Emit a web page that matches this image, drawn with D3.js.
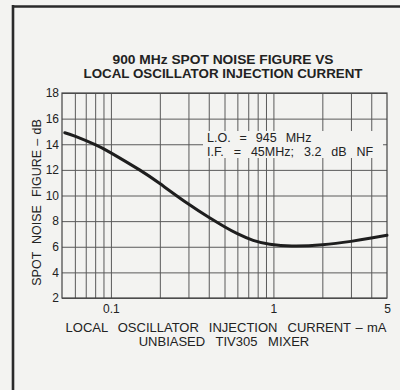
<!DOCTYPE html>
<html>
<head>
<meta charset="utf-8">
<script src="https://cdn.jsdelivr.net/npm/d3@7"></script>
<style>
  html, body { margin: 0; padding: 0; background: #f3f3f1; }
  svg { display: block; }
  text { font-family: "Liberation Sans", Arial, Helvetica, sans-serif; fill: #222; }
</style>
</head>
<body>
<svg id="chart" width="400" height="390"></svg>
<script>
// Spot noise figure vs LO injection current (unbiased TIV305 mixer)
const currentMA = [0.052, 0.06, 0.08, 0.1, 0.15, 0.2, 0.3, 0.4, 0.5, 0.6, 0.75, 0.95, 1.3, 2, 3, 4, 5];
const noiseFigureDB = [14.9, 14.63, 13.97, 13.33, 12.0, 10.93, 9.33, 8.3, 7.56, 7.02, 6.5, 6.2, 6.06, 6.15, 6.42, 6.68, 6.9];

const xGrid = [0.06, 0.07, 0.08, 0.09, 0.1, 0.2, 0.3, 0.4, 0.5, 0.6, 0.7, 0.8, 0.9, 1, 2, 3, 4];
const xTickLabels = [0.1, 1, 5];
const yTicks = [2, 4, 6, 8, 10, 12, 14, 16, 18];

const titleLines = ["900 MHz SPOT NOISE FIGURE VS", "LOCAL OSCILLATOR INJECTION CURRENT"];
const xTitleLines = ["LOCAL OSCILLATOR INJECTION CURRENT\u2004\u2013\u2004mA", "UNBIASED TIV305 MIXER"];
const yTitle = "SPOT NOISE FIGURE\u2004\u2013\u2004dB";
const noteLines = ["L.O. = 945 MHz", "I.F. = 45MHz; 3.2 dB NF"];

const svg = d3.select("#chart");
const bg = "#f3f3f1";

const x = d3.scaleLog().domain([0.05, 5]).range([62, 387]);
const y = d3.scaleLinear().domain([2, 18]).range([298, 93]);

// page frame
svg.append("line").attr("x1", 13).attr("x2", 13).attr("y1", 5).attr("y2", 390)
  .attr("stroke", "#2a2a2a").attr("stroke-width", 2.6);
svg.append("line").attr("x1", 12).attr("x2", 400).attr("y1", 6.5).attr("y2", 6.5)
  .attr("stroke", "#2a2a2a").attr("stroke-width", 2.6);

// title
svg.append("g").selectAll("text").data(titleLines).join("text")
  .attr("x", 223).attr("y", (d, i) => 64 + i * 13.5)
  .attr("text-anchor", "middle")
  .attr("font-size", 13).attr("font-weight", "bold")
  .attr("textLength", (d, i) => i === 0 ? 221 : 279)
  .attr("lengthAdjust", "spacingAndGlyphs")
  .text(d => d);

// grid via axes
const gx = svg.append("g").attr("transform", `translate(0,${y(2)})`)
  .call(d3.axisBottom(x).tickValues(xGrid).tickSize(-(y(2) - y(18))).tickFormat(""));
gx.select(".domain").remove();
gx.selectAll(".tick line").attr("stroke", "#5a5a5a").attr("stroke-width", 1);

const gy = svg.append("g").attr("transform", `translate(${x(0.05)},0)`)
  .call(d3.axisLeft(y).tickValues(yTicks).tickSize(-(x(5) - x(0.05))).tickFormat(""));
gy.select(".domain").remove();
gy.selectAll(".tick line").attr("stroke", "#5a5a5a").attr("stroke-width", 1);

// plot border
svg.append("rect")
  .attr("x", x(0.05)).attr("y", y(18))
  .attr("width", x(5) - x(0.05)).attr("height", y(2) - y(18))
  .attr("fill", "none").attr("stroke", "#444").attr("stroke-width", 1.2);

// note box knocks out grid behind the text
svg.append("rect").attr("x", 203).attr("y", 131).attr("width", 180).attr("height", 27).attr("fill", bg);
svg.append("g").selectAll("text").data(noteLines).join("text")
  .attr("x", 207).attr("y", (d, i) => 142 + i * 14)
  .attr("font-size", 12.5)
  .style("word-spacing", (d, i) => i === 0 ? "5.5px" : "6.5px")
  .text(d => d);

// y tick labels
const ly = svg.append("g").attr("transform", `translate(${x(0.05)},0)`)
  .call(d3.axisLeft(y).tickValues(yTicks).tickSize(0).tickPadding(3).tickFormat(d3.format("d")));
ly.select(".domain").remove();
ly.selectAll("text").attr("font-size", 12).attr("font-family", null).attr("fill", "#222");

// x tick labels
const lx = svg.append("g").attr("transform", `translate(0,${y(2)})`)
  .call(d3.axisBottom(x).tickValues(xTickLabels).tickSize(0).tickPadding(6).tickFormat(d => String(d)));
lx.select(".domain").remove();
lx.selectAll("text").attr("font-size", 12).attr("font-family", null).attr("fill", "#222");

// axis titles
svg.append("g").selectAll("text").data(xTitleLines).join("text")
  .attr("x", (d, i) => i === 0 ? 226 : 224).attr("y", (d, i) => 332 + i * 13.5)
  .attr("text-anchor", "middle")
  .attr("font-size", 13)
  .style("word-spacing", (d, i) => i === 0 ? "6.4px" : "7px")
  .text(d => d);

svg.append("text")
  .attr("transform", `translate(41,${(115 + 290) / 2}) rotate(-90)`)
  .attr("text-anchor", "middle")
  .attr("font-size", 12.5)
  .style("word-spacing", "4.5px")
  .text(yTitle);

// curve
const line = d3.line()
  .x((d, i) => x(currentMA[i]))
  .y(d => y(d))
  .curve(d3.curveNatural);
svg.append("path")
  .datum(noiseFigureDB)
  .attr("d", line)
  .attr("fill", "none")
  .attr("stroke", "#1e1e1e")
  .attr("stroke-width", 3)
  .attr("stroke-linecap", "round");
</script>
</body>
</html>
